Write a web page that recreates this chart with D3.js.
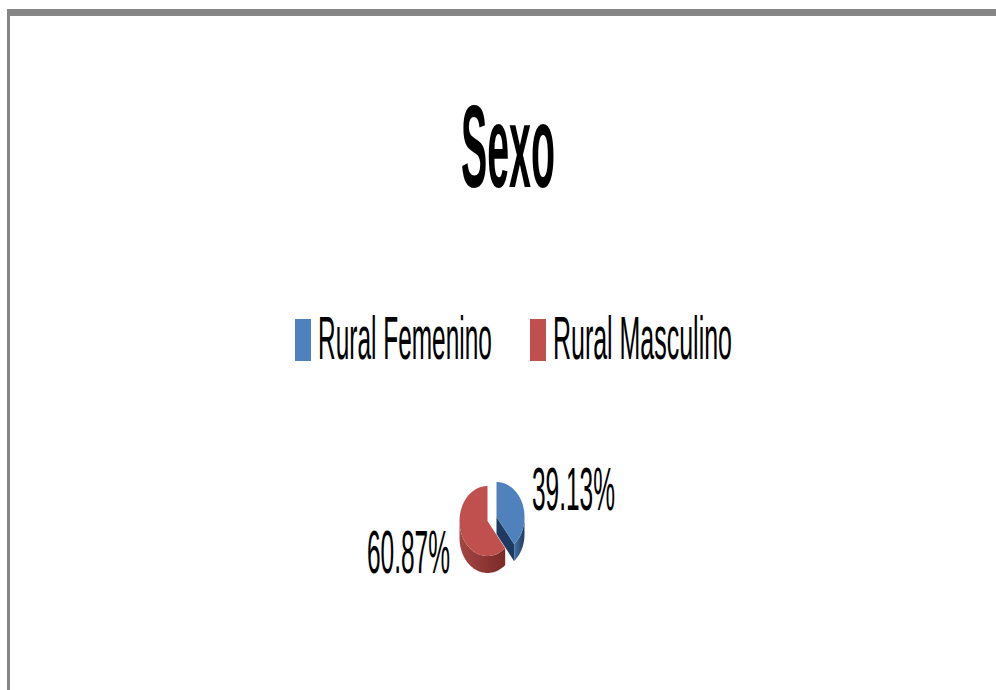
<!DOCTYPE html>
<html>
<head>
<meta charset="utf-8">
<script src="https://cdn.jsdelivr.net/npm/d3@7"></script>
<style>
  body { margin: 0; background: #fff; }
  svg { display: block; font-family: "Liberation Sans", Arial, sans-serif; }
</style>
</head>
<body>
<svg id="svg" width="996" height="690"></svg>
<script>
// DATA
const title = "Sexo";
const categories = ["Rural Femenino", "Rural Masculino"];
const values = [39.13, 60.87];
const labels = ["39.13%", "60.87%"];
const topColors = ["#4F81BD", "#C0504D"];
const sideColors = ["#1F3A60", "#7A2A28"];

// VARIABLES
const width = 996, height = 690;
const cx = 492, cy = 519;      // pie centre
const rx = 28, ry = 35;        // ellipse of the top face
const depth = 17;              // thickness of the pie
const explode = 0.17;

const svg = d3.select("#svg");

// squeeze a text horizontally so it spans w pixels from x
function fitText(sel, x, y, w) {
  sel.attr("x", 0).attr("y", 0);
  const natural = sel.node().getComputedTextLength();
  sel.attr("transform", `translate(${x},${y}) scale(${w / natural},1)`);
}

// frame (top bar + left edge)
svg.append("rect").attr("x", 7).attr("y", 9).attr("width", width - 7).attr("height", 7).attr("fill", "#868686");
svg.append("rect").attr("x", 7).attr("y", 9).attr("width", 3).attr("height", height - 9).attr("fill", "#868686");

// title
svg.append("text")
  .attr("font-size", 116)
  .attr("font-weight", "bold")
  .text(title)
  .call(fitText, 461, 187, 94);

// legend
const legendX = [295, 530];
const legendW = [174, 179];
const legend = svg.append("g")
  .selectAll("g")
  .data(categories)
  .enter()
  .append("g")
  .attr("transform", (d, i) => `translate(${legendX[i]},0)`);

legend.append("rect")
  .attr("x", 0).attr("y", 319)
  .attr("width", 16).attr("height", 42)
  .attr("fill", (d, i) => topColors[i]);

legend.append("text")
  .attr("font-size", 62)
  .text(d => d)
  .each(function(d, i) { d3.select(this).call(fitText, 23, 359, legendW[i]); });

// PIE
const pie = d3.pie().sort(null).value(d => d)(values);
const line = d3.line();

function arcPts(a0, a1, ox, oy, dz) {
  const n = Math.max(2, Math.ceil((a1 - a0) / 0.03));
  return d3.range(n + 1).map(k => {
    const a = a0 + (a1 - a0) * k / n;
    return [ox + rx * Math.sin(a), oy - ry * Math.cos(a) + dz];
  });
}

const defs = svg.append("defs");
pie.forEach((p, i) => {
  const g = defs.append("linearGradient")
    .attr("id", "side" + i)
    .attr("x1", "0%").attr("x2", "100%").attr("y1", "0%").attr("y2", "0%");
  g.append("stop").attr("offset", "0%").attr("stop-color", d3.color(topColors[i]).darker(0.4));
  g.append("stop").attr("offset", "100%").attr("stop-color", sideColors[i]);
});

const slices = pie.map((p, i) => {
  const mid = (p.startAngle + p.endAngle) / 2;
  return {
    p, i,
    ox: cx + explode * rx * Math.sin(mid),
    oy: cy - explode * ry * Math.cos(mid)
  };
});

const pieG = svg.append("g");

// cut faces (only those facing the viewer)
slices.forEach(s => {
  [s.p.startAngle, s.p.endAngle].forEach((a, k) => {
    const normal = k === 0 ? a - Math.PI / 2 : a + Math.PI / 2;
    if (-Math.cos(normal) <= 0.05) return;
    const e = [s.ox + rx * Math.sin(a), s.oy - ry * Math.cos(a)];
    const pts = [[s.ox, s.oy], e, [e[0], e[1] + depth], [s.ox, s.oy + depth]];
    pieG.append("path")
      .attr("d", line(pts) + "Z")
      .attr("fill", sideColors[s.i]);
  });
});

// outer walls (front half)
slices.forEach(s => {
  const a0 = Math.max(s.p.startAngle, Math.PI / 2);
  const a1 = Math.min(s.p.endAngle, 3 * Math.PI / 2);
  if (a1 <= a0) return;
  const top = arcPts(a0, a1, s.ox, s.oy, 0);
  const bot = arcPts(a0, a1, s.ox, s.oy, depth).reverse();
  pieG.append("path")
    .attr("d", line(top.concat(bot)) + "Z")
    .attr("fill", `url(#side${s.i})`);
});

// top faces
slices.forEach(s => {
  const pts = [[s.ox, s.oy]].concat(arcPts(s.p.startAngle, s.p.endAngle, s.ox, s.oy, 0));
  pieG.append("path")
    .attr("d", line(pts) + "Z")
    .attr("fill", topColors[s.i]);
});

// data labels
const labelPos = [[532, 510, 83], [367, 573, 83]];
svg.append("g")
  .selectAll("text")
  .data(labels)
  .enter()
  .append("text")
  .attr("font-size", 62)
  .text(d => d)
  .each(function(d, i) { d3.select(this).call(fitText, labelPos[i][0], labelPos[i][1], labelPos[i][2]); });
</script>
</body>
</html>
